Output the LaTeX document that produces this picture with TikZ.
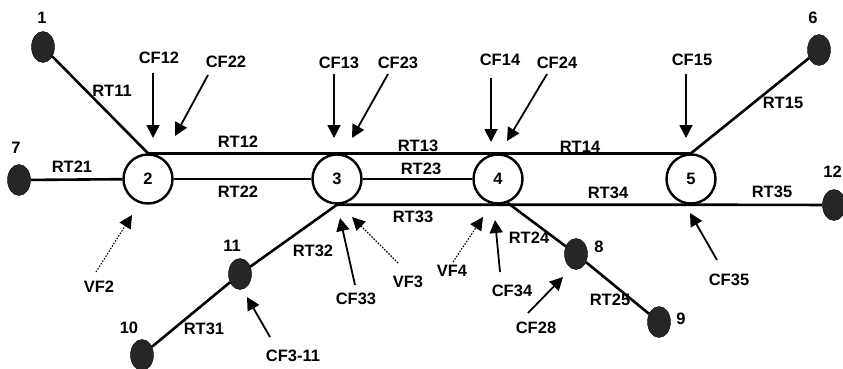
\documentclass[tikz,border=0pt]{standalone}
\usepackage{fontspec}
\setmainfont{Liberation Sans}
\usetikzlibrary{shapes.geometric,arrows.meta}
\begin{document}
\begin{tikzpicture}[x=1pt,y=-1pt,
  every node/.style={font=\bfseries\fontsize{16.5}{18}\selectfont, inner sep=0pt},
  bus/.style={draw, circle, line width=2.4pt, minimum size=49pt, inner sep=0pt},
  term/.style={ellipse, fill=black!85, draw=black, minimum width=23pt, minimum height=31pt},
  wire/.style={line width=2.6pt},
  arr/.style={line width=1.8pt, -{Triangle[length=13pt,width=13pt]}},
  varr/.style={line width=1.1pt, dash pattern=on 1.5pt off 1.5pt, -{Triangle[length=13pt,width=13pt]}}
]
\useasboundingbox (0,0) rectangle (843,369);
% buses
\node[bus] (c2) at (148,179) {2};
\node[bus] (c3) at (337,179) {3};
\node[bus] (c4) at (498,179) {4};
\node[bus] (c5) at (691,179) {5};
% terminals
\node[term] (n1) at (43,47) {};
\node[term] (n6) at (819,50) {};
\node[term] (n7) at (19,180) {};
\node[term] (n12) at (834,205) {};
\node[term] (n11) at (240,274) {};
\node[term] (n10) at (142,355) {};
\node[term] (n8) at (576,254) {};
\node[term] (n9) at (659,322) {};
% terminal labels
\node (l1) at (42,18) {1};
\node (l6) at (813,18) {6};
\node (l7) at (16,148) {7};
\node[anchor=east] (l12) at (842,172) {12};
\node (l11) at (232,246) {11};
\node (l10) at (129,328) {10};
\node (l8) at (599,247) {8};
\node (l9) at (681,319) {9};
% lines
\draw[wire] (n1) -- (c2.north);
\draw[wire] (c2.north) -- (c3.north) -- (c4.north) -- (c5.north);
\draw[wire] (c5.north) -- (n6);
\draw[wire] (n7) -- (c2);
\draw[wire] (c2) -- (c3);
\draw[wire] (c3) -- (c4);
\draw[wire] (c3.south) -- (c4.south) -- (c5.south) -- (n12);
\draw[wire] (c3.south) -- (n11);
\draw[wire] (n11) -- (n10);
\draw[wire] (c4.-68) -- (n8);
\draw[wire] (n8) -- (n9);
% line labels
\node (rt11) at (112,91) {RT11};
\node (rt21) at (72,167) {RT21};
\node (rt12) at (238,142) {RT12};
\node (rt22) at (238,192) {RT22};
\node (rt13) at (418,146) {RT13};
\node (rt23) at (421,169) {RT23};
\node (rt14) at (580,147) {RT14};
\node (rt15) at (783,103) {RT15};
\node (rt33) at (413,217) {RT33};
\node (rt34) at (608,193) {RT34};
\node (rt35) at (772,192) {RT35};
\node (rt32) at (313,251) {RT32};
\node (rt31) at (204,329) {RT31};
\node (rt24) at (529,238) {RT24};
\node (rt25) at (610,300) {RT25};
% flow labels
\node (cf12) at (159,58) {CF12};
\node (cf22) at (226,62) {CF22};
\node (cf13) at (339,63) {CF13};
\node (cf23) at (398,63) {CF23};
\node (cf14) at (500,60) {CF14};
\node (cf24) at (557,63) {CF24};
\node (cf15) at (692,60) {CF15};
\node (vf2) at (99,287) {VF2};
\node (cf311) at (293,356) {CF3-11};
\node (cf33) at (356,299) {CF33};
\node (vf3) at (408,282) {VF3};
\node (vf4) at (452,271) {VF4};
\node (cf34) at (512,291) {CF34};
\node (cf28) at (536,328) {CF28};
\node (cf35) at (729,280) {CF35};
% arrow ends
\coordinate (a12s) at (153,73);  \coordinate (a12t) at (153,138);
\coordinate (a22s) at (208,75);  \coordinate (a22t) at (175,136);
\coordinate (a13s) at (334,74);  \coordinate (a13t) at (334,138);
\coordinate (a23s) at (388,74);  \coordinate (a23t) at (352,138);
\coordinate (a14s) at (491,78);  \coordinate (a14t) at (491,142);
\coordinate (a24s) at (547,74);  \coordinate (a24t) at (507,141);
\coordinate (a15s) at (686,74);  \coordinate (a15t) at (686,138);
\coordinate (v2s) at (96,272);   \coordinate (v2t) at (132,215);
\coordinate (a311s) at (270,337); \coordinate (a311t) at (247,297);
\coordinate (a33s) at (355,285); \coordinate (a33t) at (340,218);
\coordinate (v3s) at (398,263);  \coordinate (v3t) at (352,217);
\coordinate (v4s) at (453,262);  \coordinate (v4t) at (483,217);
\coordinate (a34s) at (500,272); \coordinate (a34t) at (495,220);
\coordinate (a28s) at (528,313); \coordinate (a28t) at (563,277);
\coordinate (a35s) at (717,260); \coordinate (a35t) at (690,213);
\draw[arr] (a12s) -- (a12t);
\draw[arr] (a22s) -- (a22t);
\draw[arr] (a13s) -- (a13t);
\draw[arr] (a23s) -- (a23t);
\draw[arr] (a14s) -- (a14t);
\draw[arr] (a24s) -- (a24t);
\draw[arr] (a15s) -- (a15t);
\draw[varr] (v2s) -- (v2t);
\draw[arr] (a311s) -- (a311t);
\draw[arr] (a33s) -- (a33t);
\draw[varr] (v3s) -- (v3t);
\draw[varr] (v4s) -- (v4t);
\draw[arr] (a34s) -- (a34t);
\draw[arr] (a28s) -- (a28t);
\draw[arr] (a35s) -- (a35t);
\end{tikzpicture}
\end{document}
